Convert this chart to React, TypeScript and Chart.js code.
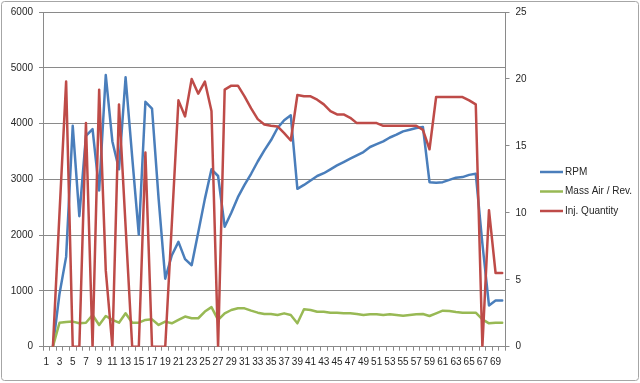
import React, { useEffect, useRef } from "react";
import { Chart, registerables } from "chart.js";

Chart.register(...registerables);

const categories: string[] = Array.from({ length: 70 }, (_, i) => String(i + 1));

const rpm: (number | null)[] = [
  null, 0, 950, 1610, 3960, 2340, 3780, 3900, 2800, 4870,
  3680, 3180, 4830, 3400, 2010, 4390, 4270, 2650, 1220, 1640,
  1880, 1570, 1460, 2050, 2650, 3180, 3060, 2150, 2400, 2680,
  2900, 3100, 3320, 3520, 3700, 3920, 4060, 4150, 2830, 2900,
  2980, 3060, 3110, 3180, 3250, 3310, 3370, 3430, 3490, 3580,
  3630, 3680, 3750, 3800, 3860, 3890, 3920, 3940, 2950, 2940,
  2950, 2990, 3030, 3040, 3080, 3100, 1850, 740, 830, 830,
];

const massAir: (number | null)[] = [
  null, 0, 430, 443, 450, 420, 430, 568, 390, 550,
  480, 430, 600, 430, 430, 480, 490, 390, 450, 420,
  480, 540, 510, 510, 630, 710, 480, 598, 658, 688,
  688, 646, 610, 586, 586, 568, 598, 568, 419, 670,
  658, 628, 628, 610, 610, 598, 598, 586, 568, 580,
  580, 568, 580, 568, 556, 568, 580, 586, 550, 598,
  646, 640, 622, 610, 610, 610, 490, 419, 430, 430,
];

const injQuantity: (number | null)[] = [
  null, 0, 10, 19.8, 0, 0, 16.7, 0, 19.2, 5.7,
  0, 18.1, 9, 0, 0, 14.5, 0, 0, 0, 9.2,
  18.4, 17.2, 20, 18.9, 19.8, 17.6, 0, 19.2, 19.5, 19.5,
  18.7, 17.8, 17.0, 16.6, 16.5, 16.45, 15.95, 15.4, 18.8, 18.7,
  18.7, 18.45, 18.1, 17.6, 17.35, 17.35, 17.1, 16.7, 16.7, 16.7,
  16.7, 16.5, 16.5, 16.5, 16.5, 16.5, 16.5, 16.2, 14.75, 18.65,
  18.65, 18.65, 18.65, 18.65, 18.4, 18.1, 0, 10.2, 5.5, 5.5,
];

const seriesNames = ["RPM", "Mass Air / Rev.", "Inj. Quantity"];
const seriesColors = ["#4A7EBB", "#98B954", "#BE4B48"];

const FONT = "'Liberation Sans', Arial, sans-serif";
const GRID = "#8a8a8a";
const TEXT = "#262626";

export default function App() {
  const ref = useRef<HTMLCanvasElement | null>(null);

  useEffect(() => {
    document.body.style.margin = "0";
    const canvas = ref.current;
    if (!canvas) return;

    const framePlugin = {
      id: "frame",
      beforeDraw(chart: any) {
        const ctx = chart.ctx;
        ctx.save();
        ctx.fillStyle = "#ffffff";
        ctx.fillRect(0, 0, chart.width, chart.height);
        ctx.restore();
      },
      afterDraw(chart: any) {
        const ctx = chart.ctx;
        ctx.save();
        ctx.strokeStyle = "#a6a6a6";
        ctx.lineWidth = 1;
        const x = 1.5, y = 1.5, w = 637, h = 379, r = 3;
        ctx.beginPath();
        ctx.moveTo(x + r, y);
        ctx.lineTo(x + w - r, y);
        ctx.quadraticCurveTo(x + w, y, x + w, y + r);
        ctx.lineTo(x + w, y + h - r);
        ctx.quadraticCurveTo(x + w, y + h, x + w - r, y + h);
        ctx.lineTo(x + r, y + h);
        ctx.quadraticCurveTo(x, y + h, x, y + h - r);
        ctx.lineTo(x, y + r);
        ctx.quadraticCurveTo(x, y, x + r, y);
        ctx.stroke();

        // legend
        const ys = [172, 191.5, 211];
        ctx.font = `10px ${FONT}`;
        ctx.textBaseline = "middle";
        ctx.textAlign = "left";
        seriesNames.forEach((name, i) => {
          ctx.strokeStyle = seriesColors[i];
          ctx.lineWidth = 2.5;
          ctx.beginPath();
          ctx.moveTo(540, ys[i]);
          ctx.lineTo(563, ys[i]);
          ctx.stroke();
          ctx.fillStyle = TEXT;
          ctx.fillText(name, 565, ys[i]);
        });
        ctx.restore();
      },
    };

    const chart = new Chart(canvas, {
      type: "line",
      data: {
        labels: categories,
        datasets: [
          {
            label: seriesNames[0],
            data: rpm,
            borderColor: seriesColors[0],
            backgroundColor: seriesColors[0],
            yAxisID: "y",
            order: 3,
          },
          {
            label: seriesNames[1],
            data: massAir,
            borderColor: seriesColors[1],
            backgroundColor: seriesColors[1],
            yAxisID: "y",
            order: 2,
          },
          {
            label: seriesNames[2],
            data: injQuantity,
            borderColor: seriesColors[2],
            backgroundColor: seriesColors[2],
            yAxisID: "y1",
            order: 1,
          },
        ],
      },
      plugins: [framePlugin],
      options: {
        responsive: false,
        animation: false,
        devicePixelRatio: 1,
        layout: { padding: { top: 12, left: 0, right: 0, bottom: 0 } },
        elements: {
          line: { tension: 0, borderWidth: 2.5, borderCapStyle: "round", borderJoinStyle: "round" },
          point: { radius: 0, hoverRadius: 0 },
        },
        plugins: {
          legend: { display: false },
          tooltip: { enabled: false },
        },
        scales: {
          x: {
            type: "category",
            offset: true,
            grid: {
              display: true,
              drawOnChartArea: false,
              drawTicks: true,
              tickLength: 4,
              offset: true,
              color: GRID,
            },
            border: { display: true, color: GRID, width: 1 },
            ticks: {
              autoSkip: false,
              maxRotation: 0,
              minRotation: 0,
              padding: 6,
              color: TEXT,
              font: { family: FONT, size: 10 },
              callback: (_v: any, idx: number) => (idx % 2 === 0 ? categories[idx] : ""),
            },
            afterFit: (scale: any) => {
              scale.height = 36.3;
            },
          },
          y: {
            position: "left",
            min: 0,
            max: 6000,
            grid: { color: GRID, tickLength: 4, drawTicks: true },
            border: { display: true, color: GRID, width: 1 },
            ticks: {
              stepSize: 1000,
              padding: 6,
              color: TEXT,
              font: { family: FONT, size: 10 },
              callback: (v: any) => String(v),
            },
            afterFit: (scale: any) => {
              scale.width = 43;
            },
          },
          y1: {
            position: "right",
            min: 0,
            max: 25,
            grid: { drawOnChartArea: false, color: GRID, tickLength: 4, drawTicks: true },
            border: { display: true, color: GRID, width: 1 },
            ticks: {
              stepSize: 5,
              padding: 6,
              color: TEXT,
              font: { family: FONT, size: 10 },
              callback: (v: any) => String(v),
            },
            afterFit: (scale: any) => {
              scale.width = 134.5;
            },
          },
        },
      },
    });

    return () => chart.destroy();
  }, []);

  return (
    <div style={{ width: 640, height: 383 }}>
      <canvas ref={ref} width={640} height={383} style={{ display: "block" }} />
    </div>
  );
}
